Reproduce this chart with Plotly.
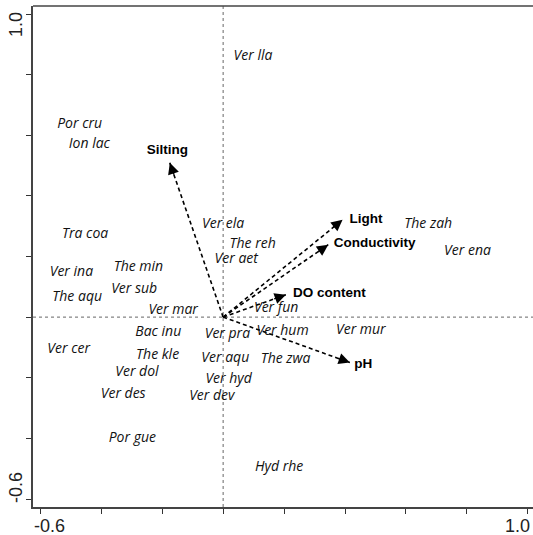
import math
import plotly.graph_objects as go

# ---- data ----
species = ["Ver lla", "Por cru", "Ion lac", "Tra coa", "Ver ela", "The reh", "Ver aet",
           "The min", "Ver ina", "Ver sub", "The aqu", "Ver mar", "Ver fun", "Bac inu",
           "Ver pra", "Ver hum", "Ver mur", "Ver cer", "The kle", "Ver aqu", "The zwa",
           "Ver dol", "Ver hyd", "Ver des", "Ver dev", "Por gue", "Hyd rhe", "The zah",
           "Ver ena"]
species_x = [0.098, -0.471, -0.439, -0.453, 0.000, 0.097, 0.043,
             -0.278, -0.498, -0.292, -0.479, -0.164, 0.174, -0.213,
             0.014, 0.195, 0.452, -0.507, -0.215, 0.007, 0.205,
             -0.283, 0.018, -0.328, -0.037, -0.298, 0.184, 0.673,
             0.802]
species_y = [0.859, 0.635, 0.569, 0.272, 0.307, 0.241, 0.189,
             0.165, 0.147, 0.092, 0.066, 0.022, 0.027, -0.051,
             -0.058, -0.047, -0.044, -0.108, -0.128, -0.135, -0.139,
             -0.183, -0.205, -0.256, -0.262, -0.399, -0.497, 0.307,
             0.215]

env_vars = ["Silting", "Light", "Conductivity", "DO content", "pH"]
env_x = [-0.175, 0.392, 0.345, 0.206, 0.416]
env_y = [0.509, 0.321, 0.239, 0.074, -0.150]
env_label_x = [-0.183, 0.469, 0.497, 0.349, 0.460]
env_label_y = [0.550, 0.321, 0.241, 0.079, -0.157]

tick_vals = [-0.6, -0.4, -0.2, 0.0, 0.2, 0.4, 0.6, 0.8, 1.0]
x_tick_labels = {-0.6: "-0.6", 1.0: "1.0"}
y_tick_labels = {-0.6: "-0.6", 1.0: "1.0"}

X_RANGE = [-0.624, 1.017]
Y_RANGE = [-0.6264, 1.0264]

W, H = 533, 535
ML, MR, MT, MB = 33, 0, 6, 28
px_per_x = (W - ML - MR) / (X_RANGE[1] - X_RANGE[0])
px_per_y = (H - MT - MB) / (Y_RANGE[1] - Y_RANGE[0])

fig = go.Figure()

# reference lines through origin
fig.add_trace(go.Scatter(x=[X_RANGE[0], X_RANGE[1]], y=[0, 0], mode="lines",
                         line=dict(color="#666666", width=1, dash="dot"),
                         hoverinfo="skip", showlegend=False))
fig.add_trace(go.Scatter(x=[0, 0], y=[Y_RANGE[0], Y_RANGE[1]], mode="lines",
                         line=dict(color="#666666", width=1, dash="dot"),
                         hoverinfo="skip", showlegend=False))

# dashed arrow shafts
for ex, ey in zip(env_x, env_y):
    fig.add_trace(go.Scatter(x=[0, ex], y=[0, ey], mode="lines",
                             line=dict(color="black", width=1.6, dash="4px,3px"),
                             hoverinfo="skip", showlegend=False))

# arrowheads (short solid tail along the arrow direction, tail length in pixels)
tail_px = 14
for ex, ey in zip(env_x, env_y):
    dx, dy = ex * px_per_x, ey * px_per_y
    L = math.hypot(dx, dy)
    tx = ex - (dx / L) * tail_px / px_per_x
    ty = ey - (dy / L) * tail_px / px_per_y
    fig.add_annotation(x=ex, y=ey, ax=tx, ay=ty,
                       xref="x", yref="y", axref="x", ayref="y",
                       showarrow=True, arrowhead=2, arrowsize=1.5,
                       arrowwidth=1.5, arrowcolor="black", text="", standoff=0)

# species labels
fig.add_trace(go.Scatter(x=species_x, y=species_y, mode="text", text=species,
                         textposition="middle center",
                         textfont=dict(family="Open Sans", size=14, color="#111111",
                                       style="italic"),
                         hoverinfo="skip", showlegend=False))

# environmental labels
fig.add_trace(go.Scatter(x=env_label_x, y=env_label_y, mode="text", text=env_vars,
                         textposition="middle center",
                         textfont=dict(family="Arial", size=13.5, color="black",
                                       weight="bold"),
                         hoverinfo="skip", showlegend=False))

# tick labels (as annotations to match placement)
tick_font = dict(family="Arial", size=18, color="#222222")
fig.add_annotation(x=-0.6, y=0, xref="x", yref="paper", yshift=-18.5, xshift=9,
                   xanchor="center", yanchor="middle",
                   text=x_tick_labels[-0.6], showarrow=False, font=tick_font)
fig.add_annotation(x=1.0, y=0, xref="x", yref="paper", yshift=-18.5, xshift=-10,
                   xanchor="center", yanchor="middle",
                   text=x_tick_labels[1.0], showarrow=False, font=tick_font)
fig.add_annotation(x=0, y=1.0, xref="paper", yref="y", xshift=-17, yshift=-11,
                   xanchor="center", yanchor="middle",
                   text=y_tick_labels[1.0], showarrow=False, font=tick_font, textangle=-90)
fig.add_annotation(x=0, y=-0.6, xref="paper", yref="y", xshift=-17, yshift=11,
                   xanchor="center", yanchor="middle",
                   text=y_tick_labels[-0.6], showarrow=False, font=tick_font, textangle=-90)

# top border line
fig.add_shape(type="line", xref="paper", yref="paper", x0=0, x1=1, y0=1, y1=1,
              line=dict(color="#444444", width=1.5))

axis_common = dict(tickvals=tick_vals, showticklabels=False, ticks="outside",
                   ticklen=5, tickwidth=1.2, tickcolor="#333333",
                   showline=True, linecolor="#444444", linewidth=1.5,
                   showgrid=False, zeroline=False)

fig.update_layout(
    width=W, height=H,
    margin=dict(l=ML, r=MR, t=MT, b=MB),
    paper_bgcolor="white", plot_bgcolor="white",
    xaxis=dict(range=X_RANGE, **axis_common),
    yaxis=dict(range=Y_RANGE, **axis_common),
    showlegend=False,
)

fig.write_html("out.html", config={"displayModeBar": False},
               post_script="document.body.style.margin='0';document.body.style.overflow='hidden';")
